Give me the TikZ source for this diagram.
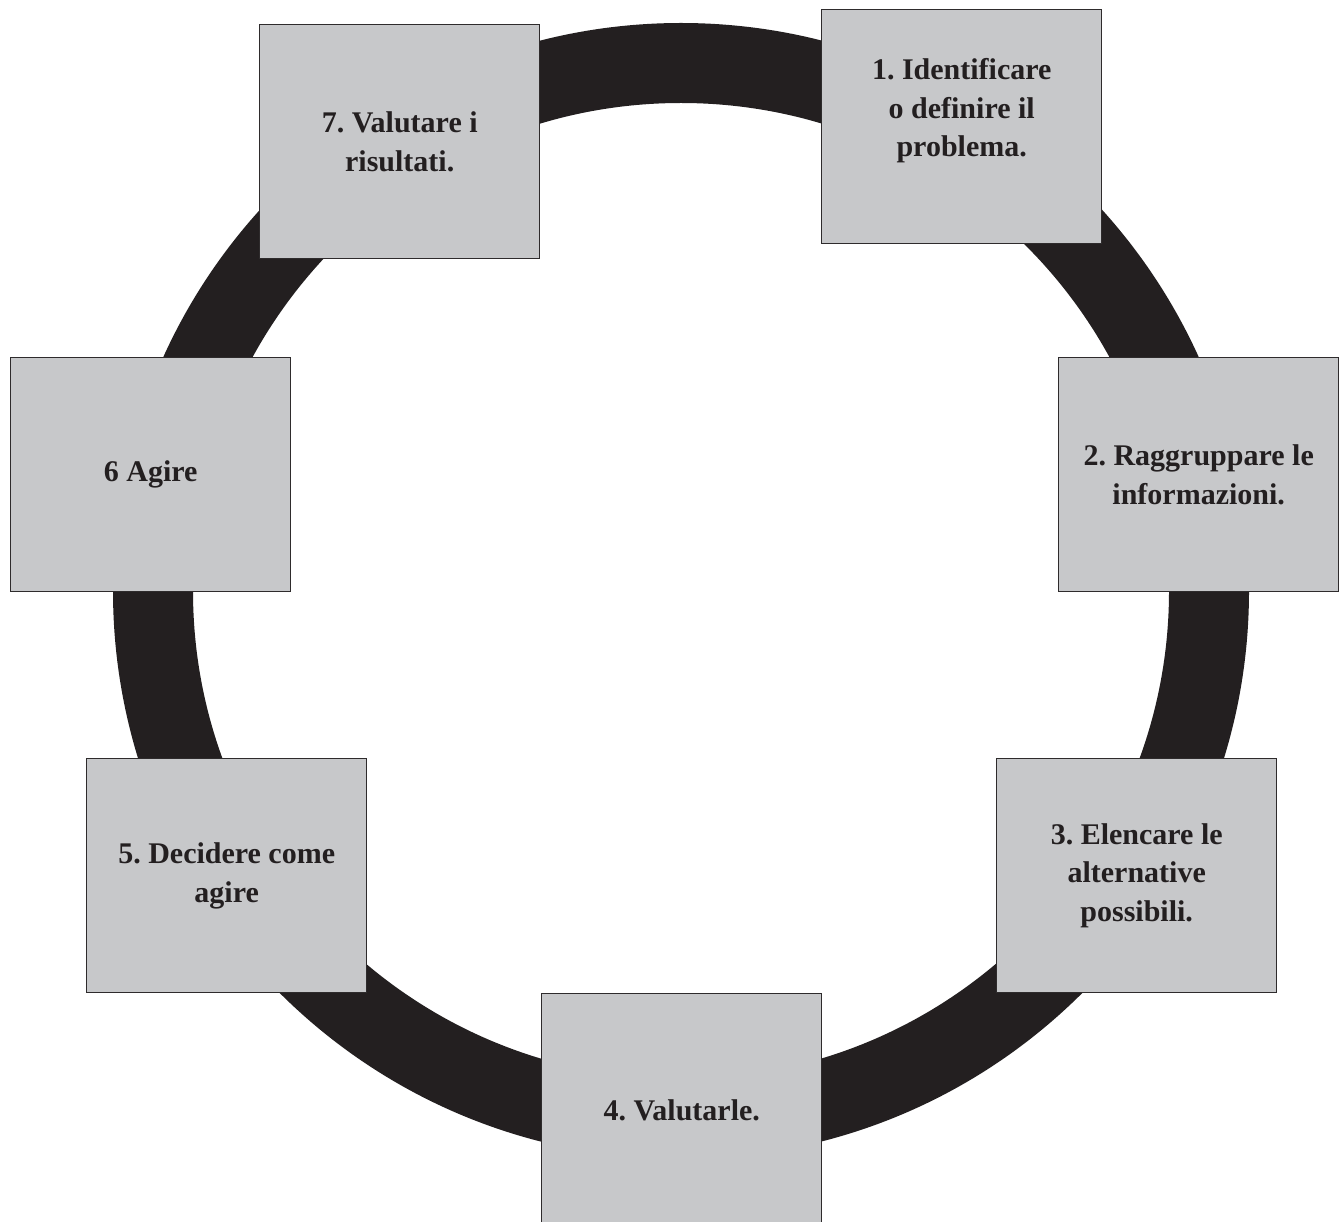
\documentclass[tikz,border=0pt]{standalone}
\usepackage{fontspec}
\setmainfont{Liberation Serif}
\frenchspacing
\definecolor{ringblack}{HTML}{231F20}
\definecolor{boxgray}{HTML}{C7C8CA}
\definecolor{boxline}{HTML}{2E2B2C}
\tikzset{
  stepbox/.style={draw=boxline, line width=1.4pt, fill=boxgray, anchor=north west,
    minimum width=280pt, minimum height=234pt, inner sep=0pt, align=center,
    text=ringblack, font=\bfseries\fontsize{30}{38.5}\selectfont},
  ring/.style={draw=ringblack, line width=80pt}
}
\begin{document}
\begin{tikzpicture}[x=1pt,y=-1pt]
\useasboundingbox[fill=white] (0,0) rectangle (1341,1222);
\coordinate (c) at (681,591);
\draw[ring] (c) circle (528);
\node[stepbox] (b1) at (821,9) {1. Identificare\\o definire il\\problema.\\\mbox{}};
\node[stepbox] (b2) at (1058,357) {2. Raggruppare le\\informazioni.};
\node[stepbox] (b3) at (996,758) {3. Elencare le\\alternative\\possibili.};
\node[stepbox] (b4) at (541,993) {4. Valutarle.};
\node[stepbox] (b5) at (86,758) {5. Decidere come\\agire};
\node[stepbox] (b6) at (10,357) {6 Agire};
\node[stepbox] (b7) at (259,24) {7. Valutare i\\risultati.};
\end{tikzpicture}
\end{document}
